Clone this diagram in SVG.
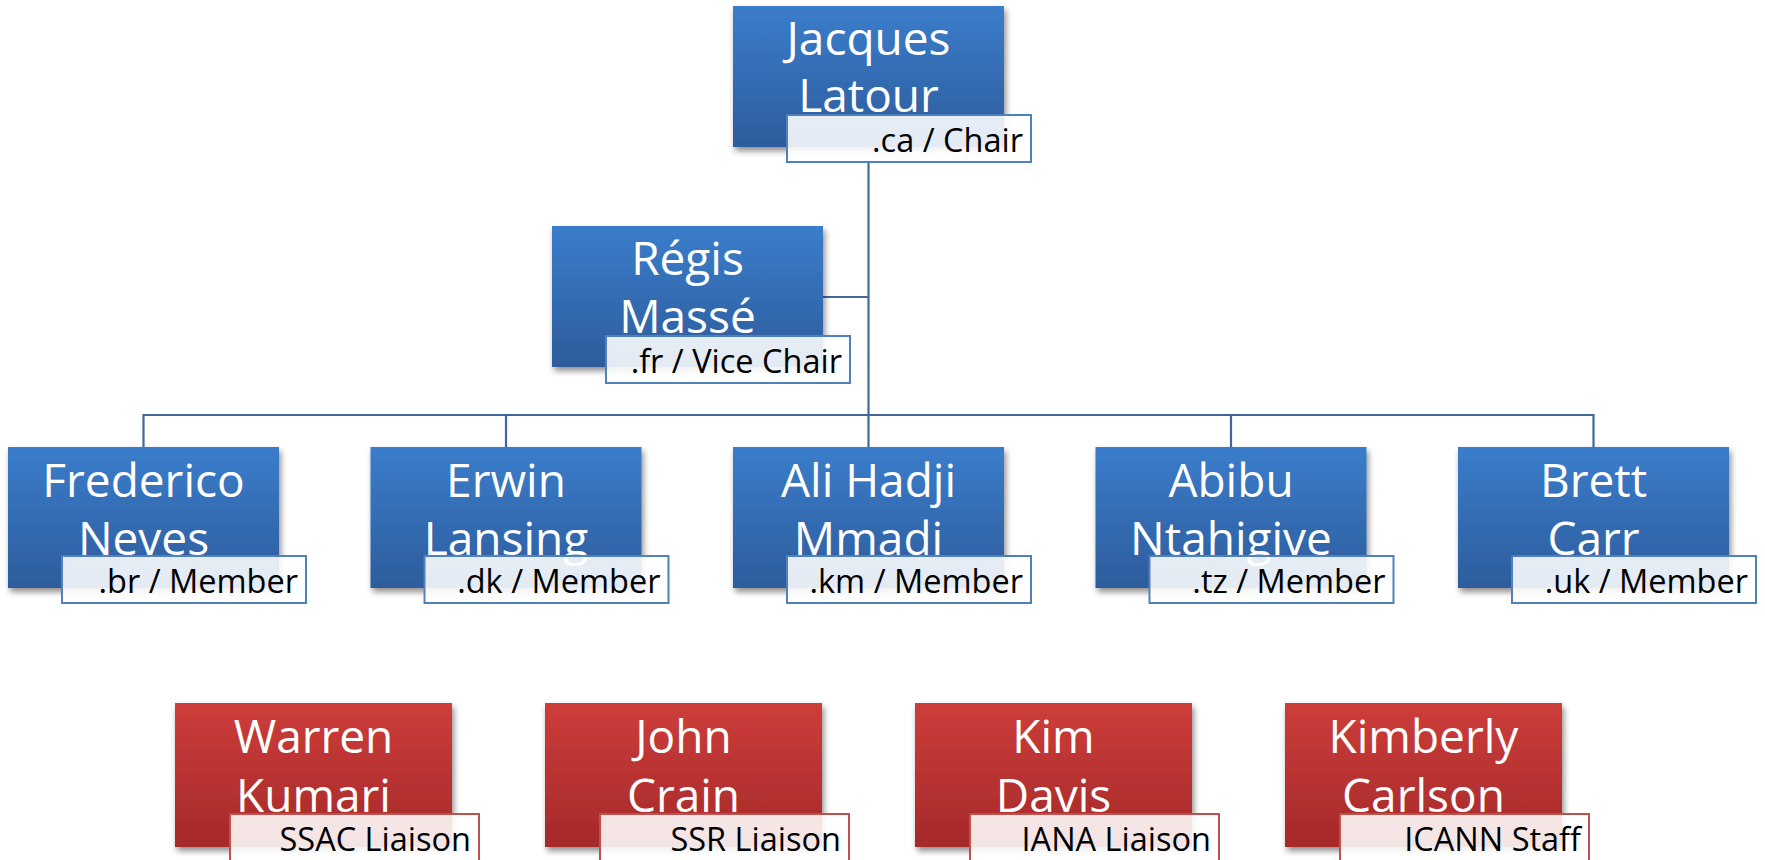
<svg xmlns="http://www.w3.org/2000/svg" width="1765" height="860" viewBox="0 0 1765 860">
<style>
.name{font-family:"Open Sans","Liberation Sans",sans-serif;font-size:46px;fill:#ffffff;text-anchor:middle}
.lab{font-family:"Open Sans","Liberation Sans",sans-serif;font-size:32.5px;fill:#000000;text-anchor:end}
.bbox{fill:url(#gb);filter:url(#sh)}
.rbox{fill:url(#gr);filter:url(#sh)}
.blab{fill:#ffffff;fill-opacity:0.88;stroke:#4f81bd;stroke-width:2}
.rlab{fill:#ffffff;fill-opacity:0.88;stroke:#c0504d;stroke-width:2}
.conn{fill:none;stroke:#41689a;stroke-width:2.2}
</style>
<defs>
<linearGradient id="gb" x1="0" y1="0" x2="0" y2="1"><stop offset="0" stop-color="#3b7dcb"/><stop offset="1" stop-color="#2d5c9c"/></linearGradient>
<linearGradient id="gr" x1="0" y1="0" x2="0" y2="1"><stop offset="0" stop-color="#cd3d3a"/><stop offset="1" stop-color="#a5292a"/></linearGradient>
<filter id="sh" x="-10%" y="-10%" width="125%" height="130%"><feGaussianBlur in="SourceAlpha" stdDeviation="3"/><feOffset dx="2" dy="4"/><feComponentTransfer><feFuncA type="linear" slope="0.45"/></feComponentTransfer><feMerge><feMergeNode/><feMergeNode in="SourceGraphic"/></feMerge></filter>
</defs>
<rect width="1765" height="860" fill="#ffffff"/>
<g id="connectors">
<path class="conn" d="M868.5 162 V415"/>
<path class="conn" d="M823 297 H868.5"/>
<path class="conn" d="M143.5 447 V415 H1593.5 V447"/>
<path class="conn" d="M506 415 V447 M868.5 415 V447 M1231 415 V447"/>
</g>
<g id="n-latour"><rect class="bbox" x="733" y="6" width="271" height="141"/><text class="name" x="868.5" y="55">Jacques</text><text class="name" x="868.5" y="112">Latour</text><rect class="blab" x="787" y="115" width="244" height="47"/><text class="lab" x="1023" y="152">.ca / Chair</text></g>
<g id="n-masse"><rect class="bbox" x="552" y="226" width="271" height="141"/><text class="name" x="687.5" y="275">Régis</text><text class="name" x="687.5" y="333">Massé</text><rect class="blab" x="606" y="336" width="244" height="47"/><text class="lab" x="842" y="373">.fr / Vice Chair</text></g>
<g id="n-neves"><rect class="bbox" x="8" y="447" width="271" height="141"/><text class="name" x="143.5" y="497">Frederico</text><text class="name" x="143.5" y="555">Neves</text><rect class="blab" x="62" y="556" width="244" height="47"/><text class="lab" x="298" y="593">.br / Member</text></g>
<g id="n-lansing"><rect class="bbox" x="370.5" y="447" width="271" height="141"/><text class="name" x="506" y="497">Erwin</text><text class="name" x="506" y="555">Lansing</text><rect class="blab" x="424.5" y="556" width="244" height="47"/><text class="lab" x="660.5" y="593">.dk / Member</text></g>
<g id="n-mmadi"><rect class="bbox" x="733" y="447" width="271" height="141"/><text class="name" x="868.5" y="497">Ali Hadji</text><text class="name" x="868.5" y="555">Mmadi</text><rect class="blab" x="787" y="556" width="244" height="47"/><text class="lab" x="1023" y="593">.km / Member</text></g>
<g id="n-ntahigive"><rect class="bbox" x="1095.5" y="447" width="271" height="141"/><text class="name" x="1231" y="497">Abibu</text><text class="name" x="1231" y="555">Ntahigive</text><rect class="blab" x="1149.5" y="556" width="244" height="47"/><text class="lab" x="1385.5" y="593">.tz / Member</text></g>
<g id="n-carr"><rect class="bbox" x="1458" y="447" width="271" height="141"/><text class="name" x="1593.5" y="497">Brett</text><text class="name" x="1593.5" y="555">Carr</text><rect class="blab" x="1512" y="556" width="244" height="47"/><text class="lab" x="1748" y="593">.uk / Member</text></g>
<g id="n-kumari"><rect class="rbox" x="175" y="703" width="277" height="144"/><text class="name" x="313.5" y="753">Warren</text><text class="name" x="313.5" y="812">Kumari</text><rect class="rlab" x="230" y="814" width="249" height="60"/><text class="lab" x="471" y="851">SSAC Liaison</text></g>
<g id="n-crain"><rect class="rbox" x="545" y="703" width="277" height="144"/><text class="name" x="683.5" y="753">John</text><text class="name" x="683.5" y="812">Crain</text><rect class="rlab" x="600" y="814" width="249" height="60"/><text class="lab" x="841" y="851">SSR Liaison</text></g>
<g id="n-davis"><rect class="rbox" x="915" y="703" width="277" height="144"/><text class="name" x="1053.5" y="753">Kim</text><text class="name" x="1053.5" y="812">Davis</text><rect class="rlab" x="970" y="814" width="249" height="60"/><text class="lab" x="1211" y="851">IANA Liaison</text></g>
<g id="n-carlson"><rect class="rbox" x="1285" y="703" width="277" height="144"/><text class="name" x="1423.5" y="753">Kimberly</text><text class="name" x="1423.5" y="812">Carlson</text><rect class="rlab" x="1340" y="814" width="249" height="60"/><text class="lab" x="1581" y="851">ICANN Staff</text></g>
</svg>
